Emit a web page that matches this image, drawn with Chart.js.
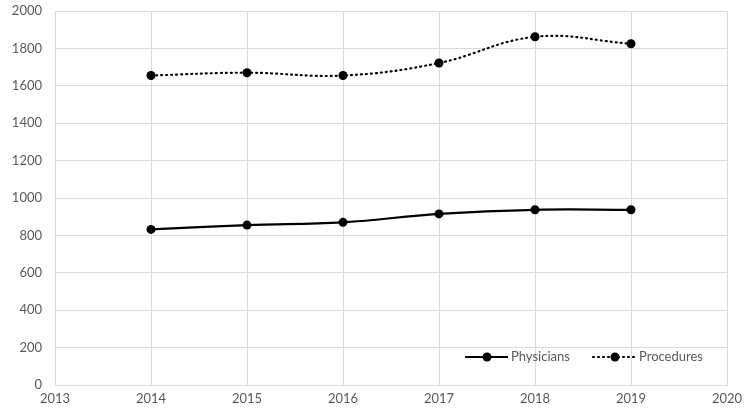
<!DOCTYPE html>
<html>
<head>
<meta charset="utf-8">
<script src="https://cdn.jsdelivr.net/npm/chart.js@4/dist/chart.umd.min.js"></script>
<style>
  html, body { margin: 0; padding: 0; background: #fff; }
  #wrap { width: 744px; height: 412px; }
</style>
</head>
<body>
<div id="wrap"><canvas id="chart"></canvas></div>
<script>
// data
const years = [2014, 2015, 2016, 2017, 2018, 2019];
const physicians = [832, 855, 870, 915, 937, 937];
const procedures = [1655, 1670, 1655, 1722, 1862, 1825];
const yTicks = [0, 200, 400, 600, 800, 1000, 1200, 1400, 1600, 1800, 2000];

const FONT = 'Lato, "Open Sans", sans-serif';

// legend drawn by hand so each entry shows line + dot, like Excel
const lineLegend = {
  id: 'lineLegend',
  afterDraw(chart) {
    const ctx = chart.ctx;
    const items = [
      { text: 'Physicians', dash: [], x: 465 },
      { text: 'Procedures', dash: [1, 4], x: 593 }
    ];
    const y = 357;
    ctx.save();
    items.forEach(it => {
      ctx.strokeStyle = '#000';
      ctx.lineWidth = 2.2;
      ctx.lineCap = it.dash.length ? 'round' : 'butt';
      ctx.setLineDash(it.dash);
      ctx.beginPath();
      ctx.moveTo(it.x, y);
      ctx.lineTo(it.x + 43, y);
      ctx.stroke();
      ctx.setLineDash([]);
      ctx.fillStyle = '#000';
      ctx.beginPath();
      ctx.arc(it.x + 22, y, 4.5, 0, Math.PI * 2);
      ctx.fill();
      ctx.fillStyle = '#595959';
      ctx.font = '13px ' + FONT;
      ctx.textBaseline = 'middle';
      ctx.fillText(it.text, it.x + 46, y);
    });
    ctx.restore();
  }
};

new Chart(document.getElementById('chart'), {
  type: 'line',
  data: {
    datasets: [
      {
        label: 'Physicians',
        data: years.map((yr, i) => ({ x: yr, y: physicians[i] })),
        borderColor: '#000',
        backgroundColor: '#000',
        borderWidth: 2.2,
        pointRadius: 4.5,
        pointBorderWidth: 0,
        pointHoverRadius: 4.5,
        tension: 0.4
      },
      {
        label: 'Procedures',
        data: years.map((yr, i) => ({ x: yr, y: procedures[i] })),
        borderColor: '#000',
        backgroundColor: '#000',
        borderWidth: 2.2,
        borderDash: [1, 4],
        borderCapStyle: 'round',
        pointRadius: 4.5,
        pointBorderWidth: 0,
        pointHoverRadius: 4.5,
        tension: 0.4
      }
    ]
  },
  options: {
    responsive: true,
    maintainAspectRatio: false,
    animation: false,
    layout: { padding: { top: 11, right: 17, left: 0, bottom: 0 } },
    plugins: { legend: { display: false }, tooltip: { enabled: false } },
    scales: {
      x: {
        type: 'linear',
        min: 2013,
        max: 2020,
        afterBuildTicks: axis => { axis.ticks = [2013, 2014, 2015, 2016, 2017, 2018, 2019, 2020].map(v => ({ value: v })); },
        afterFit: axis => { axis.height = 27; axis.paddingRight = 0; axis.paddingLeft = 0; },
        grid: { color: '#d9d9d9', lineWidth: 1, drawTicks: false },
        border: { color: '#d9d9d9' },
        ticks: {
          color: '#595959',
          font: { family: FONT, size: 13 },
          padding: 6,
          maxRotation: 0,
          callback: v => String(v)
        }
      },
      y: {
        min: 0,
        max: 2000,
        afterBuildTicks: axis => { axis.ticks = yTicks.map(v => ({ value: v })); },
        afterFit: axis => { axis.width = 55; axis.paddingTop = 0; axis.paddingBottom = 0; },
        grid: { color: '#d9d9d9', lineWidth: 1, drawTicks: false },
        border: { color: '#d9d9d9' },
        ticks: {
          color: '#595959',
          font: { family: FONT, size: 13 },
          padding: 13,
          callback: v => String(v)
        }
      }
    }
  },
  plugins: [lineLegend]
});
</script>
</body>
</html>
